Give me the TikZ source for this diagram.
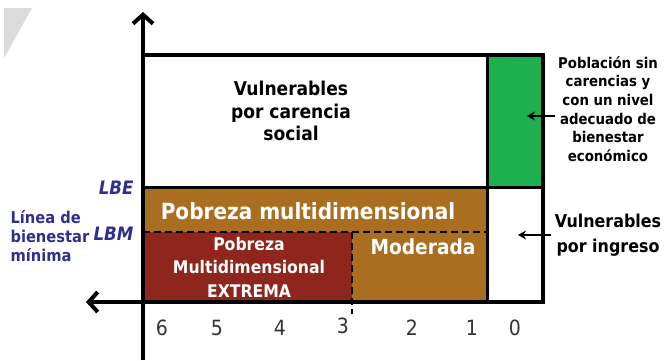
\documentclass[tikz,border=0pt]{standalone}
\usepackage{fontspec}
\setmainfont{DejaVu Sans Condensed}
\usetikzlibrary{arrows.meta}
\definecolor{cafe}{RGB}{170,110,32}
\definecolor{rojizo}{RGB}{142,38,30}
\definecolor{verde}{RGB}{30,176,78}
\definecolor{azulino}{RGB}{48,48,140}

\begin{document}
\begin{tikzpicture}[x=1pt,y=-1pt,>=stealth,
    eje/.style={line width=4pt,-{Straight Barb[length=9pt,width=20pt]}},
    borde/.style={line width=3pt},
    guion/.style={line width=2pt,dash pattern=on 7pt off 4pt},
    flecha/.style={line width=2pt,-{Stealth[length=8pt,width=9pt]}},
    blanco/.style={text=white,font=\bfseries,align=center},
    negro/.style={font=\bfseries,align=center},
    cifra/.style={text=black!80,font=\fontsize{21}{21}\selectfont},
    ]
    \useasboundingbox (0,0) rectangle (669,360);
    \fill[gray!28] (4,8) -- (32,8) -- (4,58) -- cycle;
    % regiones
    \fill[verde] (487,55) rectangle (543,187);
    \fill[cafe] (143,187) rectangle (487,302);
    \fill[rojizo] (143,232) rectangle (352,302);
    % lineas
    \draw[guion] (143,232) -- (487,232);
    \draw[guion] (352,232) -- (352,314);
    \draw[borde] (143,187) -- (543,187);
    \draw[borde] (487,55) -- (487,302);
    \draw[line width=4.5pt] (143,302) -- (143,55) -- (543,55) -- (543,302);
    \coordinate (origen) at (143,302);
    \coordinate (arriba) at (143,12);
    \coordinate (abajo) at (143,360);
    \coordinate (izq) at (86,302);
    \coordinate (der) at (545,302);
    \draw[eje] (abajo) -- (arriba);
    \draw[eje] (der) -- (izq);
    % textos
    \node[negro,font=\bfseries\fontsize{19}{22.5}\selectfont] (carencia) at (291,111) {Vulnerables\\por carencia\\social};
    \node[blanco,font=\bfseries\fontsize{22.3}{23}\selectfont] (pobreza) at (308,211) {Pobreza multidimensional};
    \node[blanco,font=\bfseries\fontsize{17.4}{23.5}\selectfont] (extrema) at (249,267) {Pobreza\\Multidimensional\\EXTREMA};
    \node[blanco,font=\bfseries\fontsize{20.7}{20}\selectfont] (moderada) at (423,247) {Moderada};
    \node[negro,font=\bfseries\fontsize{14.8}{18.6}\selectfont] (poblacion) at (608,109) {Población sin\\carencias y\\con un nivel\\adecuado de\\bienestar\\económico};
    \node[negro,font=\bfseries\fontsize{17.7}{25}\selectfont] (ingreso) at (608,235) {Vulnerables\\por ingreso};
    \node[text=azulino,font=\bfseries\itshape\fontsize{18.5}{18}\selectfont,anchor=east] (lbe) at (137,188) {LBE};
    \node[text=azulino,font=\bfseries\itshape\fontsize{18.5}{18}\selectfont,anchor=east] (lbm) at (137,234) {LBM};
    \node[text=azulino,font=\bfseries\fontsize{16.3}{19}\selectfont,align=left,anchor=west] (linea) at (7,236) {Línea de\\bienestar\\mínima};
    % escala
    \node[cifra] (n6) at (162,328) {6};
    \node[cifra] (n5) at (217,328) {5};
    \node[cifra] (n4) at (280,328) {4};
    \node[cifra] (n3) at (343,326) {3};
    \node[cifra] (n2) at (412,328) {2};
    \node[cifra] (n1) at (472,328) {1};
    \node[cifra] (n0) at (515,328) {0};
    % flechas
    \coordinate (verdept) at (527,116);
    \coordinate (blancopt) at (518,235);
    \draw[flecha] (poblacion.west |- verdept) -- (verdept);
    \draw[flecha] (ingreso.west) -- (blancopt);
\end{tikzpicture}
\end{document}
